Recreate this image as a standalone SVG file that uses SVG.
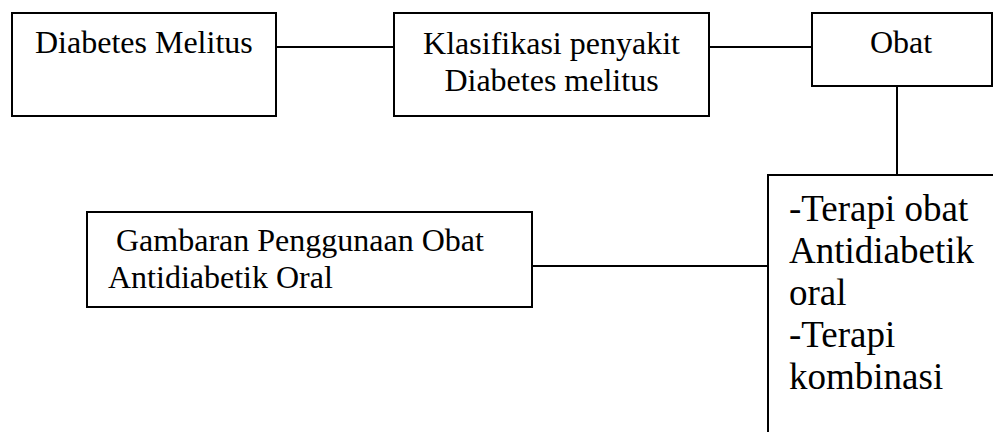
<svg xmlns="http://www.w3.org/2000/svg" width="993" height="432" viewBox="0 0 993 432">
<style>
.box{fill:#fff;stroke:#000;stroke-width:2}
.conn line{stroke:#000;stroke-width:2}
text{font-family:"Liberation Serif","Times New Roman",serif;fill:#000;font-size:32px}
.big{font-size:37px}
</style>
<rect width="993" height="432" fill="#fff"/>
<g id="connectors" class="conn">
<line x1="276" y1="47" x2="394" y2="47"/>
<line x1="709" y1="47" x2="812" y2="47"/>
<line x1="897" y1="86" x2="897" y2="175"/>
<line x1="532" y1="266" x2="768" y2="266"/>
</g>
<g id="diabetes-melitus">
<rect class="box" x="12" y="13" width="264" height="103"/>
<text x="35" y="53">Diabetes Melitus</text>
</g>
<g id="klasifikasi">
<rect class="box" x="394" y="13" width="315" height="103"/>
<text x="551.5" y="54" text-anchor="middle">Klasifikasi penyakit</text>
<text x="551.5" y="91" text-anchor="middle">Diabetes melitus</text>
</g>
<g id="obat">
<rect class="box" x="812" y="13" width="180" height="73"/>
<text x="901" y="53" text-anchor="middle">Obat</text>
</g>
<g id="terapi">
<rect class="box" x="768" y="175" width="240" height="270"/>
<text class="big" x="789" y="221">-Terapi obat</text>
<text class="big" x="789" y="263">Antidiabetik</text>
<text class="big" x="789" y="305">oral</text>
<text class="big" x="789" y="347">-Terapi</text>
<text class="big" x="789" y="389">kombinasi</text>
</g>
<g id="gambaran">
<rect class="box" x="87" y="212" width="445" height="95"/>
<text x="108" y="251" xml:space="preserve"> Gambaran Penggunaan Obat</text>
<text x="108" y="288">Antidiabetik Oral</text>
</g>
</svg>
